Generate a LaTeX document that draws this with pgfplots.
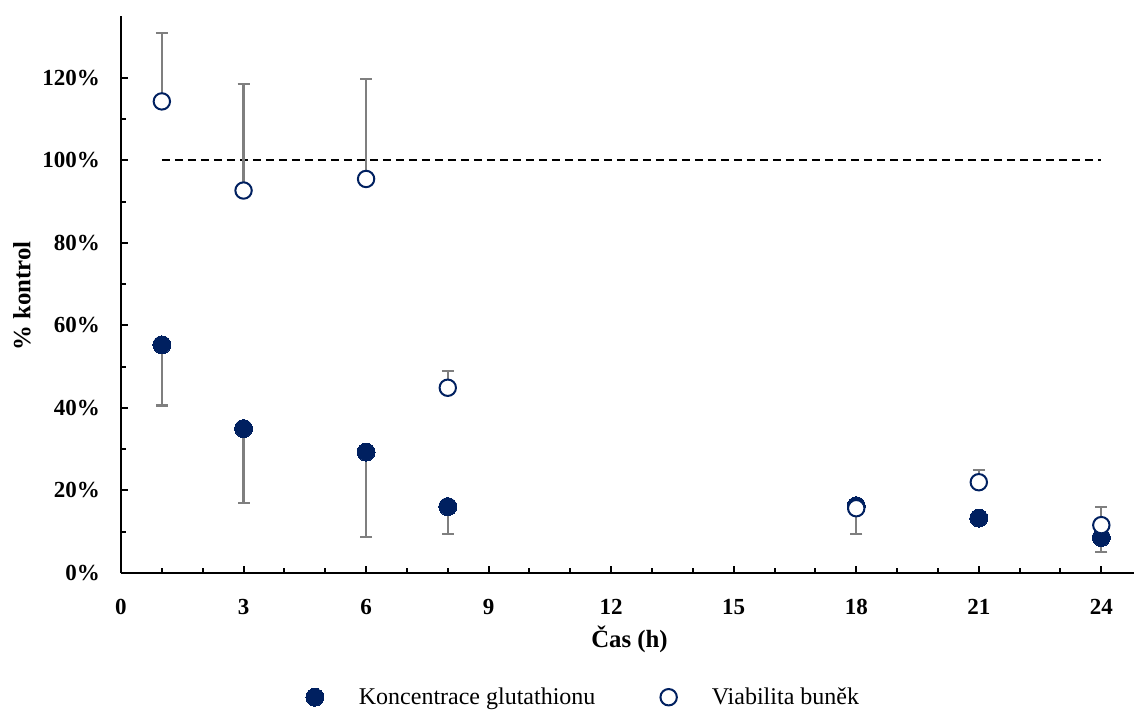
\documentclass[border=0pt]{standalone}
\usepackage{pgfplots}
\pgfplotsset{compat=1.18}
\usepackage{fontspec}
\setmainfont{Liberation Serif}
\definecolor{navy}{HTML}{002060}
\definecolor{errgray}{HTML}{7F7F7F}
\begin{document}
\begin{tikzpicture}
\useasboundingbox (-60.5pt,-69pt) rectangle (506.5pt,286.5pt);
\begin{axis}[
  scale only axis, width=506.5pt, height=278.5pt,
  xmin=0, xmax=24.8, ymin=0, ymax=135,
  axis x line*=bottom, axis y line*=left,
  axis line style={line width=1pt},
  xtick={0,3,...,24}, minor x tick num=2,
  ytick={0,20,...,120}, minor y tick num=1,
  tick align=inside,
  major tick length=3.5pt, minor tick length=2.5pt,
  tick style={line width=1pt, black},
  /pgf/number format/assume math mode=true,
  ticklabel style={font=\fontsize{11.5}{13}\selectfont\bfseries},
  yticklabel={\pgfmathprintnumber{\tick}\%},
  xticklabel style={yshift=-9.5pt},
  yticklabel style={xshift=-7pt},
  xlabel={Čas (h)}, ylabel={\% kontrol},
  label style={font=\fontsize{12.4}{14}\selectfont\bfseries},
  xlabel style={at={(axis description cs:0.502,-0.12)}, anchor=center},
  ylabel style={at={(axis description cs:-0.0977,0.497)}, anchor=center},
  legend style={draw=none, at={(axis description cs:0.4575,-0.223)}, anchor=center,
    font=\fontsize{12}{14}\selectfont, legend columns=2,
    /tikz/every odd column/.append style={column sep=15.5pt},
    /tikz/every even column/.append style={column sep=30.5pt}},
  clip=false,
]
\addplot[black, dashed, line width=1pt, dash pattern=on 4pt off 2.5pt, forget plot] coordinates {(1,100) (24,100)};
\addplot[only marks, mark=*, mark size=4.5pt, mark options={fill=navy, draw=navy, line width=0pt},
  error bars/.cd, y dir=minus, y explicit,
  error bar style={errgray, line width=1.1pt},
  error mark options={errgray, line width=1.1pt, mark size=3pt, rotate=90}]
  table[x=x, y=y, y error=e] {
x y e
1 55.3 14.7
3 35.0 18.0
6 29.3 20.6
8 16.1 6.6
18 16.3 6.9
21 13.3 0
24 8.6 3.6
};
\addlegendentry{Koncentrace glutathionu}
\addplot[only marks, mark=*, mark size=4.1pt, mark options={fill=white, draw=navy, line width=1pt},
  error bars/.cd, y dir=plus, y explicit,
  error bar style={errgray, line width=1.1pt},
  error mark options={errgray, line width=1.1pt, mark size=3pt, rotate=90}]
  table[x=x, y=y, y error=e] {
x y e
1 114.3 16.5
3 92.7 25.9
6 95.5 24.3
8 44.9 4.1
18 15.7 0
21 22.0 2.9
24 11.6 4.4
};
\addlegendentry{Viabilita buněk}
\end{axis}
\end{tikzpicture}
\end{document}
